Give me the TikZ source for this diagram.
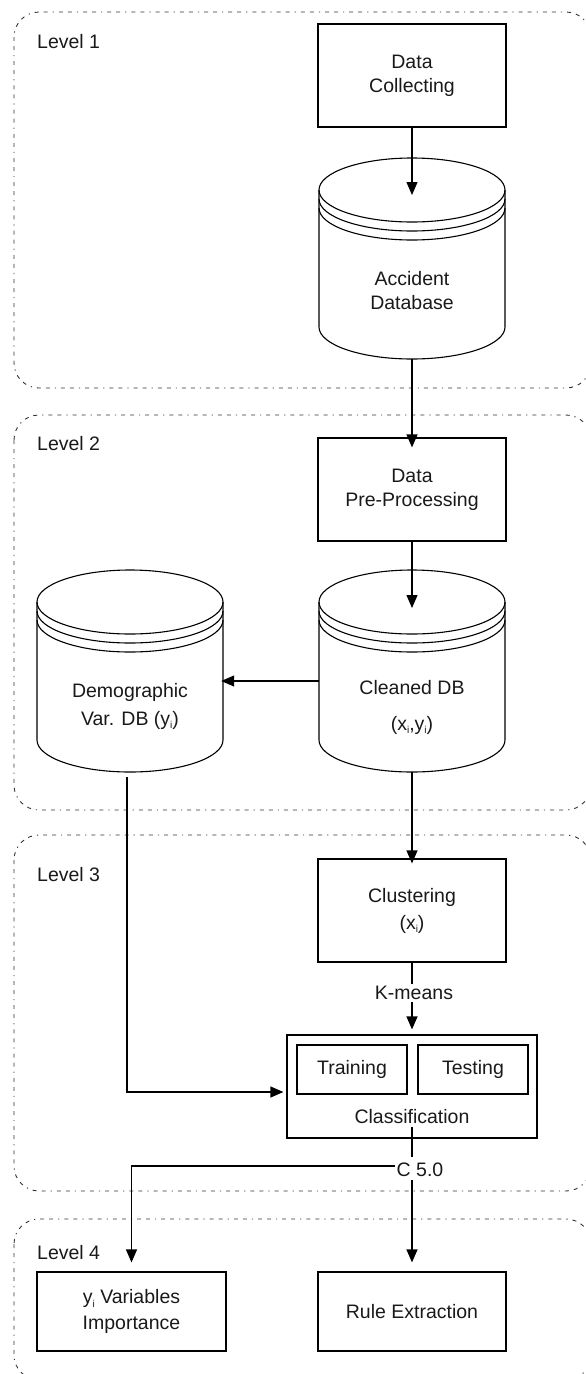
\documentclass[tikz,border=0pt]{standalone}
\usepackage{fontspec}
\setmainfont{Liberation Sans}
\usetikzlibrary{arrows.meta,calc}
\newcommand\lowi{\raisebox{-3.5pt}{\fontsize{10}{10}\selectfont i}}
% #1 centre x, #2 top ellipse centre y, #3 bottom ellipse centre y
\newcommand\dbdraw[3]{%
  \draw[cyl] (#1,#2) ellipse [x radius=93pt, y radius=32pt];
  \draw[cyl] (#1-93,#2) -- (#1-93,#2+9) arc[start angle=180, end angle=360, x radius=93pt, y radius=32pt] -- (#1+93,#2);
  \draw[cyl] (#1-93,#2+9) -- (#1-93,#2+18) arc[start angle=180, end angle=360, x radius=93pt, y radius=32pt] -- (#1+93,#2+9);
  \draw[cyl] (#1-93,#2+18) -- (#1-93,#3) arc[start angle=180, end angle=360, x radius=93pt, y radius=32pt] -- (#1+93,#2+18);
}
\begin{document}
\begin{tikzpicture}[x=1pt,y=-1pt,
  txt/.style={font=\fontsize{19.5}{24}\selectfont, text=black!90, align=center, inner sep=2pt},
  box/.style={draw, line width=1.2pt, txt},
  cyl/.style={draw, line width=1.1pt},
  ghost/.style={inner sep=0pt, draw=none, rectangle},
  arr/.style={line width=1.2pt, -{Triangle[length=13pt,width=11pt]}},
  conn/.style={line width=1.2pt},
  levelframe/.style={draw=black!80, line width=0.9pt, rounded corners=25pt,
     dash pattern=on 4pt off 5pt on 4pt off 5pt on 1.2pt off 5pt},
  lvl/.style={font=\fontsize{19.5}{24}\selectfont, text=black!90, anchor=base west, inner sep=0pt}]

\useasboundingbox (0,0) rectangle (586,1374);
\clip (0,0) rectangle (586,1374);

% level frames
\draw[levelframe] (14,12) rectangle (591,388);
\draw[levelframe] (14,415) rectangle (591,810);
\draw[levelframe] (14,835) rectangle (591,1191);
\draw[levelframe] (14,1219) rectangle (591,1380);

\node[lvl] (l1) at (37,48) {Level 1};
\node[lvl] (l2) at (37,450) {Level 2};
\node[lvl] (l3) at (37,881) {Level 3};
\node[lvl] (l4) at (37,1259) {Level 4};

% Level 1
\node[box, minimum width=188pt, minimum height=103pt] (dc) at (412,75.5) {Data\\Collecting};
\dbdraw{412}{190}{327}
\node[ghost, minimum width=186pt, minimum height=201pt] (dbA) at (412,258.5) {};
\node[txt] (dbAt) at (412,290.5) {Accident\\Database};
\coordinate (dbAin) at (412,195);

% Level 2
\node[box, minimum width=188pt, minimum height=103pt] (pre) at (412,489.5) {Data\\Pre-Processing};
\dbdraw{412}{602}{740}
\node[ghost, minimum width=186pt, minimum height=202pt] (clean) at (412,671) {};
\node[txt] (cleanA) at (412,688) {Cleaned DB};
\node[txt] (cleanB) at (412,725) {(x\lowi,y\lowi)};
\coordinate (cleanin) at (412,608);
\dbdraw{130}{602}{740}
\node[ghost, minimum width=186pt, minimum height=202pt] (dem) at (130,671) {};
\node[txt, font=\fontsize{19.5}{28}\selectfont] (demt) at (130,706) {Demographic\\Var. DB (y\lowi)};
\coordinate (ylink) at (0,681);

% Level 3
\node[box, minimum width=188pt, minimum height=103pt, font=\fontsize{19.5}{27}\selectfont] (clu) at (412,910.5) {Clustering\\(x\lowi)};
\node[txt] (km) at (414,993) {K-means};
\node[draw, line width=1.2pt, minimum width=250pt, minimum height=103pt] (cls) at (412,1086.5) {};
\node[box, minimum width=110pt, minimum height=49pt] (train) at (352,1069.5) {Training};
\node[box, minimum width=110pt, minimum height=49pt] (test) at (473,1069.5) {Testing};
\node[txt] (clst) at (412,1117) {Classification};
\node[txt] (c50) at (420,1170) {C 5.0};
\coordinate (clslink) at (0,1092);

% Level 4
\node[box, minimum width=189pt, minimum height=79pt, font=\fontsize{19.5}{26}\selectfont] (varimp) at (131.5,1311.5) {y\lowi\ Variables\\Importance};
\node[box, minimum width=188pt, minimum height=79pt] (rule) at (412,1311.5) {Rule Extraction};

% connectors
\draw[arr] (dc.south) -- (dbAin);
\draw[arr] (dbA.south) -- ([yshift=-10pt]pre.north);
\draw[arr] (pre.south) -- (cleanin);
\draw[arr] (clean.west |- ylink) -- ([xshift=-2pt]dem.east |- ylink);
\draw[arr] (clean.south) -- ([yshift=-5pt]clu.north);
\draw[arr] ([xshift=-3pt,yshift=-5pt]dem.south) |- ([xshift=-3pt]cls.west |- clslink);
\draw[conn] (clu.south) -- (clu.south |- km.north);
\draw[arr] (clu.south |- km.south) -- ([yshift=5pt]cls.north);
\draw[conn] (412,1127) -- (412,1157);
\draw[arr] (412,1180) -- ([yshift=9pt]rule.north);
\draw[arr] ([yshift=4pt]c50.west) -| ([yshift=9pt]varimp.north);
\end{tikzpicture}
\end{document}
